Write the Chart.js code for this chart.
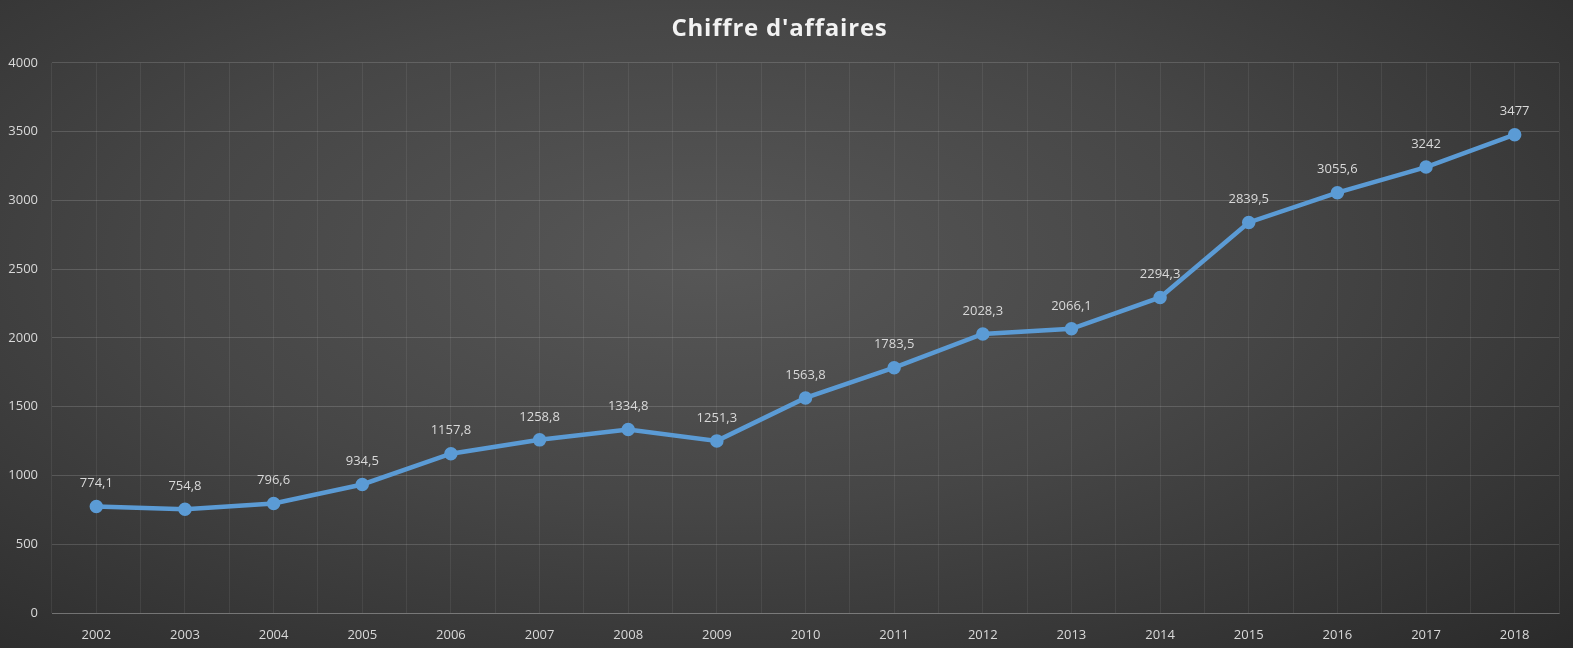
<!DOCTYPE html>
<html>
<head>
<meta charset="utf-8">
<script src="https://cdn.jsdelivr.net/npm/chart.js@4"></script>
<style>
  html, body { margin: 0; padding: 0; }
  body {
    width: 1573px; height: 648px; overflow: hidden;
    background: radial-gradient(ellipse at 45% 40%, #575757 0%, #464646 45%, #2a2a2a 100%);
  }
  #wrap { position: relative; width: 1573px; height: 648px; }
</style>
</head>
<body>
<div id="wrap"><canvas id="ca"></canvas></div>
<script>
const years = ['2002', '2003', '2004', '2005', '2006', '2007', '2008', '2009', '2010',
               '2011', '2012', '2013', '2014', '2015', '2016', '2017', '2018'];
const chiffre = [774.1, 754.8, 796.6, 934.5, 1157.8, 1258.8, 1334.8, 1251.3, 1563.8,
                 1783.5, 2028.3, 2066.1, 2294.3, 2839.5, 3055.6, 3242, 3477];
const yTicks = [0, 500, 1000, 1500, 2000, 2500, 3000, 3500, 4000];

const textColor = '#d9d9d9';
const tickFont = { family: '"Open Sans", "DejaVu Sans", sans-serif', size: 13 };

// etiquettes de valeur au-dessus des points
const valueLabels = {
    id: 'valueLabels',
    afterDatasetsDraw(chart) {
        const c = chart.ctx;
        const meta = chart.getDatasetMeta(0);
        c.save();
        c.fillStyle = textColor;
        c.font = '13px "Open Sans", "DejaVu Sans", sans-serif';
        c.textAlign = 'center';
        c.textBaseline = 'middle';
        meta.data.forEach((pt, i) => {
            const txt = String(chiffre[i]).replace('.', ',');
            c.fillText(txt, pt.x, pt.y - 23);
        });
        c.restore();
    }
};

const ctx = document.getElementById('ca');

let chart = new Chart(ctx, {
    type: 'line',
    data: {
        labels: years,
        datasets: [{
            label: "Chiffre d'affaires",
            data: chiffre,
            borderColor: '#5b9bd5',
            backgroundColor: '#5b9bd5',
            borderWidth: 4.5,
            pointRadius: 4.5,
            pointHoverRadius: 4.5,
            tension: 0
        }]
    },
    options: {
        responsive: true,
        maintainAspectRatio: false,
        animation: false,
        layout: { padding: { left: 0, right: 14, top: 0, bottom: 0 } },
        plugins: {
            legend: { display: false },
            tooltip: { enabled: false },
            title: {
                display: true,
                text: "Chiffre d'affaires",
                color: '#f2f2f2',
                font: { family: '"Open Sans", "DejaVu Sans", sans-serif', size: 24, weight: 'bold' },
                padding: { top: 15, bottom: 19 }
            }
        },
        scales: {
            x: {
                offset: true,
                grid: {
                    offset: false,
                    color: 'rgba(255,255,255,0.07)',
                    drawTicks: false
                },
                border: { color: 'rgba(255,255,255,0.2)' },
                ticks: { color: textColor, font: tickFont, padding: 14, maxRotation: 0 },
                afterFit(scale) { scale.height = 35; }
            },
            x2: {
                position: 'bottom',
                offset: true,
                labels: years,
                grid: {
                    offset: true,
                    color: 'rgba(255,255,255,0.07)',
                    drawTicks: false
                },
                border: { display: false },
                ticks: { display: false },
                afterFit(scale) { scale.height = 0; }
            },
            y: {
                min: 0,
                max: 4000,
                afterBuildTicks(scale) { scale.ticks = yTicks.map(v => ({ value: v })); },
                grid: { color: 'rgba(255,255,255,0.15)', drawTicks: false },
                border: { display: false },
                ticks: {
                    color: textColor, font: tickFont, padding: 14,
                    callback: (v) => String(v)
                },
                afterFit(scale) { scale.width = 52; }
            }
        }
    },
    plugins: [valueLabels]
});

// titre un peu espacé, comme dans Excel
const drawTitle = chart.titleBlock.draw.bind(chart.titleBlock);
chart.titleBlock.draw = function () {
    const c = chart.ctx;
    const old = c.letterSpacing;
    c.letterSpacing = '0.8px';
    drawTitle();
    c.letterSpacing = old || '0px';
};
chart.draw();
</script>
</body>
</html>
